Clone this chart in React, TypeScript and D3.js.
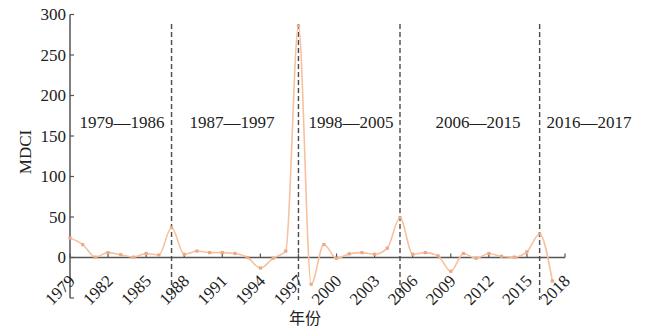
import React from "react";
import * as d3 from "d3";

const years: number[] = d3.range(1979, 2018);
const mdci: number[] = [
  24, 16, 0.5, 6, 3.5, 0.5, 5, 3, 37, 4,
  8, 6, 6, 5, 0, -13, -1, 8, 286, -33,
  16, -1, 4.5, 6, 4, 11.5, 49, 4, 6, 2,
  -17, 5, -1, 5, 1.5, 0.5, 7, 29, -29,
];
const yTicks: number[] = [0, 50, 100, 150, 200, 250, 300];
const xTicks: number[] = d3.range(1979, 2019, 3);
const dividers: number[] = [1987, 1997, 2005, 2016];
const periodLabels: string[] = ["1979—1986", "1987—1997", "1998—2005", "2006—2015", "2016—2017"];
const periodCenters: number[] = [122, 232, 351, 478, 589];

const W = 650;
const H = 328;
const serif = "'Liberation Serif', 'Times New Roman', serif";

export default function App() {
  const x = d3.scaleLinear().domain([1979, 2018]).range([70, 565]);
  const y = d3.scaleLinear().domain([-50, 300]).range([298, 14.5]);
  const pts = years.map((yr, i) => [yr, mdci[i]] as [number, number]);
  const line = d3
    .line<[number, number]>()
    .x((d) => x(d[0]))
    .y((d) => y(d[1]))
    .curve(d3.curveMonotoneX);
  const axisColor = "#555";
  const lineColor = "#f7c19e";
  const markColor = "#eba98a";
  return (
    <svg
      width={W}
      height={H}
      style={{ position: "absolute", left: 0, top: 0, background: "#fff" }}
    >
      {/* dividers */}
      {dividers.map((d) => (
        <line
          key={d}
          x1={x(d)}
          x2={x(d)}
          y1={24}
          y2={300}
          stroke="#4a4a4a"
          strokeWidth={1.4}
          strokeDasharray="5,3"
        />
      ))}
      {/* y axis */}
      <line x1={70} x2={70} y1={y(300)} y2={y(-50)} stroke={axisColor} strokeWidth={1.5} />
      <line x1={70} x2={74} y1={y(-50)} y2={y(-50)} stroke={axisColor} strokeWidth={1.2} />
      {yTicks.map((t) => (
        <g key={t}>
          <line x1={70} x2={74} y1={y(t)} y2={y(t)} stroke={axisColor} strokeWidth={1.2} />
          <text
            x={66}
            y={y(t)}
            dy="0.35em"
            textAnchor="end"
            fontFamily={serif}
            fontSize={17}
            fill="#222"
          >
            {t}
          </text>
        </g>
      ))}
      {/* x axis */}
      <line x1={70} x2={x(2018)} y1={y(0)} y2={y(0)} stroke={axisColor} strokeWidth={1.5} />
      {xTicks.map((t) => (
        <g key={t}>
          <line x1={x(t)} x2={x(t)} y1={y(0)} y2={y(0) - 4} stroke={axisColor} strokeWidth={1.2} />
          <text
            transform={`translate(${x(t) + 6},${282}) rotate(-45)`}
            textAnchor="end"
            fontFamily={serif}
            fontSize={17}
            fill="#222"
          >
            {t}
          </text>
        </g>
      ))}
      {/* series */}
      <path d={line(pts) || ""} fill="none" stroke={lineColor} strokeWidth={1.6} />
      {pts.map((p, i) => (
        <rect
          key={i}
          x={x(p[0]) - 1.6}
          y={y(p[1]) - 1.6}
          width={3.2}
          height={3.2}
          fill={markColor}
        />
      ))}
      {/* period labels */}
      {periodLabels.map((l, i) => (
        <text
          key={l}
          x={periodCenters[i]}
          y={128}
          textAnchor="middle"
          fontFamily={serif}
          fontSize={17}
          fill="#222"
        >
          {l}
        </text>
      ))}
      {/* axis titles */}
      <text
        transform="translate(31,152) rotate(-90)"
        textAnchor="middle"
        fontFamily={serif}
        fontSize={17}
        fill="#222"
      >
        MDCI
      </text>
      <text
        x={305}
        y={324}
        textAnchor="middle"
        fontFamily="'Noto Sans CJK SC', sans-serif"
        fontSize={16}
        fill="#222"
      >
        年份
      </text>
    </svg>
  );
}
